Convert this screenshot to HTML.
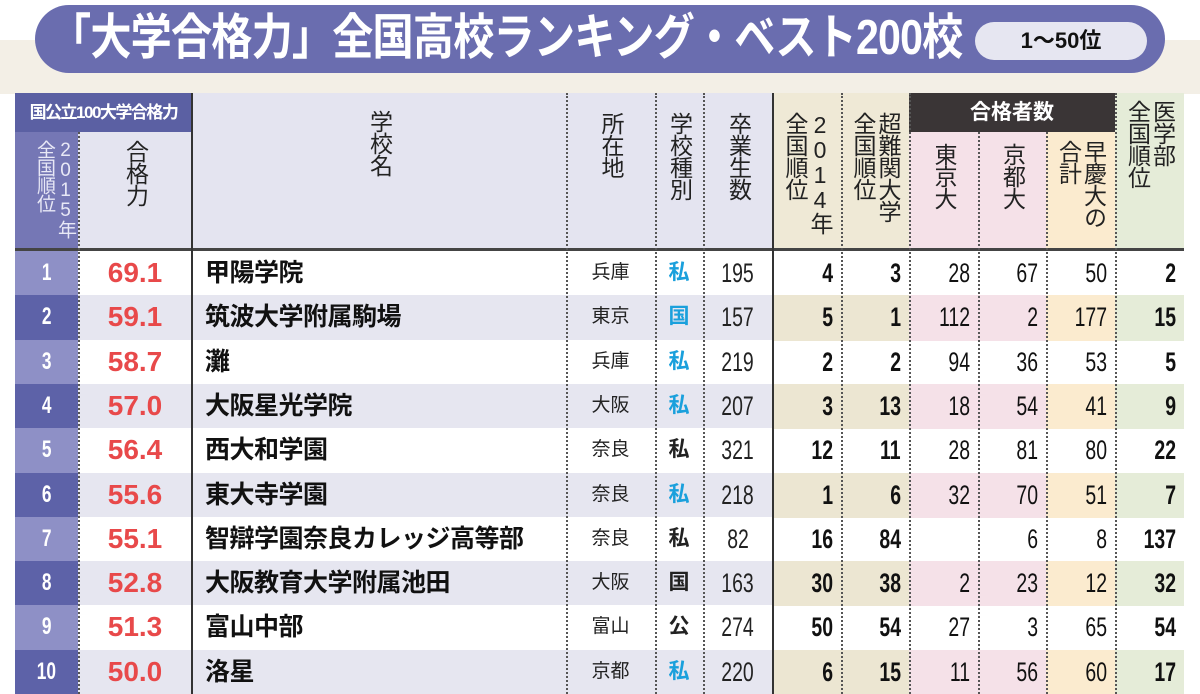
<!DOCTYPE html>
<html><head><meta charset="utf-8"><style>
html,body{margin:0;width:1200px;height:694px;overflow:hidden}
body{background:#fff;position:relative;font-family:"Liberation Sans","Noto Sans CJK JP",sans-serif}
.a{position:absolute;box-sizing:border-box}
.v{writing-mode:vertical-rl;text-orientation:upright;font-size:23px;line-height:25px;color:#222;letter-spacing:-1px}
.n{display:inline-block;transform:scaleX(0.72);font-weight:bold}
</style></head><body>
<div class="a" style="left:0;top:40px;width:1200px;height:54px;background:#f3efe6"></div>
<div class="a" style="left:35px;top:5px;width:1130px;height:68px;background:#6a6daf;border-radius:34px"></div>
<div class="a" style="left:50px;top:8px;font-size:49px;font-weight:bold;color:#fff;white-space:nowrap;line-height:60px;transform:scaleX(0.84);transform-origin:left center;letter-spacing:-1px">「大学合格力」全国高校ランキング・ベスト200校</div>
<div class="a" style="left:975px;top:22px;width:172px;height:38px;background:#e6e6f1;border-radius:19px;text-align:center;font-size:22px;font-weight:bold;line-height:38px;color:#111">1〜50位</div>

<div id="tbl"></div>
<script>
const ranks=["1","2","3","4","5","6","7","8","9","10"];
const scores=["69.1","59.1","58.7","57.0","56.4","55.6","55.1","52.8","51.3","50.0"];
const names=["甲陽学院","筑波大学附属駒場","灘","大阪星光学院","西大和学園","東大寺学園","智辯学園奈良カレッジ高等部","大阪教育大学附属池田","富山中部","洛星"];
const prefs=["兵庫","東京","兵庫","大阪","奈良","奈良","奈良","大阪","富山","京都"];
const types=["私","国","私","私","私","私","私","国","公","私"];
const typeBlue=[1,1,1,1,0,1,0,0,0,1];
const grads=["195","157","219","207","321","218","82","163","274","220"];
const rank2014=["4","5","2","3","12","1","16","30","50","6"];
const hardRank=["3","1","2","13","11","6","84","38","54","15"];
const tokyo=["28","112","94","18","28","32","","2","27","11"];
const kyoto=["67","2","36","54","81","70","6","23","3","56"];
const soukei=["50","177","53","41","80","51","8","12","65","60"];
const medRank=["2","15","5","9","22","7","137","32","54","17"];

const X=[15,78,192,566,655,703,773,841,909,978,1046,1115,1184];
function box(name,x,y,w,h,style,html,cls){const d=document.createElement('div');d.className='a '+(cls||'');


d.style.cssText=`left:${x}px;top:${y}px;width:${w}px;height:${h}px;`+style;if(html!==undefined)d.innerHTML=html;document.body.appendChild(d);return d;}
box('header-bg',78,93,695,156,'background:#e4e4f0');
box('header-rank-group',15,93,177,39,'background:#5b60a3;color:#fff;font-size:17px;font-weight:bold;line-height:39px;text-align:center;letter-spacing:-1.5px','国公立100大学合格力');
box('header-rank',15,132,63,117,'background:#7577b5');
box('header-rank-text',20,140,56,110,'color:#e8e8f6;font-size:19px;line-height:21px','2015年<br>全国順位','v');
box('header-2014-bg',773,93,136,156,'background:#efe9d6');
box('header-passers-group',909,93,206,39,'background:#3a3536;color:#fff;font-size:21px;font-weight:bold;line-height:39px;text-align:center','合格者数');
box('header-tokyo-bg',909,132,137,117,'background:#f5e1e8');
box('header-soukei-bg',1046,132,69,117,'background:#fbebcf');
box('header-med-bg',1115,93,69,156,'background:#e5ecd8');
const hdr=[[78,192,140,'header-score','合格力'],[192,566,110,'header-school','学校名'],[566,655,112,'header-pref','所在地'],[655,703,112,'header-type','学校種別'],[703,773,112,'header-grads','卒業生数'],[773,841,112,'header-2014','2014年<br>全国順位'],[841,909,112,'header-hard','超難関大学<br>全国順位'],[909,978,143,'header-tokyo','東京大'],[978,1046,143,'header-kyoto','京都大'],[1046,1115,140,'header-soukei','早慶大の<br>合計'],[1115,1184,100,'header-med','医学部<br>全国順位']];
hdr.forEach(h=>{box(h[3],h[0],h[2],h[1]-h[0],135,'display:flex;justify-content:center;overflow:hidden','<div class="v">'+h[4]+'</div>');});
const RY=251,RH=44.3;
ranks.forEach((r,i)=>{
 const y=RY+i*RH, even=i%2==1;
 box('row-bg-'+(i+1),78,y,695,RH+1,'background:'+(even?'#e6e6f0':'#fff'));
 if(even){box('row-bg-2014-'+(i+1),773,y,136,RH+1,'background:#ece6d2');
  box('row-bg-tokyo-'+(i+1),909,y,137,RH+1,'background:#f5e1e8');
  box('row-bg-soukei-'+(i+1),1046,y,69,RH+1,'background:#fbebcf');
  box('row-bg-med-'+(i+1),1115,y,69,RH+1,'background:#e5ecd8');}
 box('rank-'+r,15,y,63,RH+1,'background:'+(even?'#5d62a8':'#8e90c6')+';color:#fff;font-size:24px;text-align:center;line-height:44px','<span class="n">'+r+'</span>');
 box('score-'+r,78,y,114,RH,'color:#e8494a;font-size:28px;text-align:center;line-height:44px','<span style="font-weight:bold">'+scores[i]+'</span>');
 box('school-name-'+r,205,y,360,RH,'font-size:25px;font-weight:bold;color:#111;line-height:44px;white-space:nowrap;letter-spacing:-0.5px',names[i]);
 box('pref-'+r,566,y,89,RH,'font-size:19px;color:#222;text-align:center;line-height:44px',prefs[i]);
 box('type-'+r,655,y,48,RH,'font-size:21px;font-weight:bold;text-align:center;line-height:44px;color:'+(typeBlue[i]?'#1aa0dc':'#222'),types[i]);
 box('grads-'+r,703,y,70,RH,'font-size:27px;text-align:center;line-height:44px;color:#222','<span class="n" style="font-weight:normal">'+grads[i]+'</span>');
 const cols=[rank2014,hardRank,tokyo,kyoto,soukei,medRank],cn=['rank2014','hard-rank','tokyo','kyoto','soukei','med-rank'];
 cols.forEach((c,j)=>{const bold=(j<2||j==5);
  box(cn[j]+'-'+r,X[6+j],y,X[7+j]-X[6+j]-8,RH,'font-size:27px;text-align:right;line-height:44px;color:#111','<span class="n" style="transform-origin:right center;font-weight:'+(bold?'bold':'normal')+'">'+c[i]+'</span>');});
});
box('header-bottom-line',15,248,1169,3,'background:#444');
[78,566,655,703,841,909,978,1046,1115].forEach((x,k)=>{const t=(x==78||x==978||x==1046)?132:93;box('dotted-divider-'+k,x,t,2,694-t,'border-left:2px dotted #555');});
box('solid-divider-1',191,93,2,601,'background:#333');
box('solid-divider-2',772,93,2,601,'background:#333');
</script>
</body></html>
